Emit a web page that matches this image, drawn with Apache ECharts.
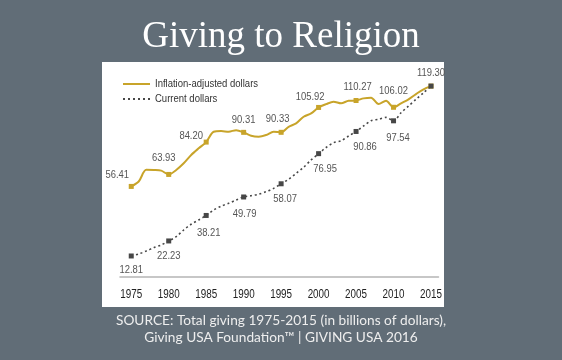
<!DOCTYPE html>
<html>
<head>
<meta charset="utf-8">
<script src="https://cdn.jsdelivr.net/npm/echarts@6.0.0/dist/echarts.min.js"></script>
<style>
html,body{margin:0;padding:0;background:#616d77;}
#chart{width:562px;height:360px;}
</style>
</head>
<body>
<div id="chart"></div>
<script>
// ---- data ----
const years = [1975,1976,1977,1978,1979,1980,1981,1982,1983,1984,
               1985,1986,1987,1988,1989,1990,1991,1992,1993,1994,
               1995,1996,1997,1998,1999,2000,2001,2002,2003,2004,
               2005,2006,2007,2008,2009,2010,2011,2012,2013,2014,2015];
const inflationAdjusted = [56.41,59.5,66.8,66.7,66.3,63.93,66.7,70.9,76.1,80.3,
                           84.20,90.7,91.1,90.7,91.7,90.31,88.2,87.6,88.6,90.7,
                           90.33,93.8,95.9,100.1,102.2,105.92,108.0,109.5,108.5,110.1,
                           110.27,111.6,112.0,108.0,110.1,106.02,108.5,111.0,114.3,117.3,119.30];
const currentDollars = [12.81,14.1,15.9,18.0,19.7,22.23,24.9,29.1,32.7,35.4,
                        38.21,41.6,44.1,45.8,47.9,49.79,50.6,51.5,53.1,55.2,
                        58.07,60.9,64.6,68.4,73.0,76.95,80.8,83.8,85.0,88.0,
                        90.86,94.3,97.6,98.5,99.7,97.54,102.6,106.8,111.0,115.1,119.30];
const tickYears = [1975,1980,1985,1990,1995,2000,2005,2010,2015];
const seriesNames = ['Inflation-adjusted dollars','Current dollars'];
const titleText = 'Giving to Religion';
const sourceLines = ['SOURCE: Total giving 1975-2015 (in billions of dollars),',
                     'Giving USA Foundation\u2122 | GIVING USA 2016'];

// ---- label placement (offsets from the marker) ----
const inflLabelOffset = {1975:[-14,-12],1980:[-5,-17],1985:[-15,-6],1990:[0,-13],1995:[-3.5,-13],
                         2000:[-8.5,-11],2005:[1.5,-14],2010:[0,-16],2015:[0,-13]};
const curLabelOffset = {1975:[0,14],1980:[0,15],1985:[2.5,17],1990:[1,17],1995:[4,15.5],
                        2000:[6.5,15],2005:[9,15],2010:[4.5,17]};

// Narrow rendering for chart texts (emulates a condensed sans face)
(function () {
  const proto = CanvasRenderingContext2D.prototype;
  const origFill = proto.fillText;
  proto.fillText = function (t, x, y, mw) {
    if (String(this.font).indexOf('Liberation Sans') >= 0) {
      this.save();
      this.translate(x, y);
      this.scale(0.82, 1);
      origFill.call(this, t, 0, 0);
      this.restore();
    } else if (mw !== undefined) {
      origFill.call(this, t, x, y, mw);
    } else {
      origFill.call(this, t, x, y);
    }
  };
})();

const GOLD = '#c8a42a';
const DARK = '#474747';
const labelFont = '"Liberation Sans",Arial,sans-serif';

function build(values, offsets) {
  return years.map((y, i) => {
    const item = {value: [y, values[i]]};
    if (offsets[y]) {
      item.label = {show: true, position: 'inside', offset: offsets[y],
        formatter: values[i].toFixed(2), color: '#555', fontSize: 11.5,
        fontFamily: labelFont, align: 'center', verticalAlign: 'middle'};
    }
    return item;
  });
}

const chart = echarts.init(document.getElementById('chart'), null, {renderer: 'canvas'});
chart.setOption({
  backgroundColor: '#616d77',
  animation: false,
  graphic: [
    {type: 'rect', z: -10, shape: {x: 102, y: 62, width: 342, height: 245}, style: {fill: '#ffffff'}},
    {type: 'text', left: 'center', top: 19, style: {text: titleText, fill: '#ffffff',
      font: '37px "Liberation Serif","Times New Roman",serif'}},
    {type: 'text', x: 281, y: 321, style: {text: sourceLines[0], fill: '#eeeeee', align: 'center', verticalAlign: 'middle',
      font: '13.7px Lato,"Open Sans",sans-serif'}},
    {type: 'text', x: 281, y: 338, style: {text: sourceLines[1], fill: '#eeeeee', align: 'center', verticalAlign: 'middle',
      font: '13.7px Lato,"Open Sans",sans-serif'}}
  ],
  legend: {
    orient: 'vertical', left: 118, top: 71.5, itemWidth: 27, itemHeight: 2, itemGap: 0,
    textStyle: {color: '#333', fontSize: 11.6, lineHeight: 15, fontFamily: labelFont},
    data: [
      {name: seriesNames[0], icon: 'path://M0,0L27,0L27,2L0,2Z'},
      {name: seriesNames[1], icon: 'path://M0,0L2,0L2,2L0,2Z M5,0L7,0L7,2L5,2Z M10,0L12,0L12,2L10,2Z M15,0L17,0L17,2L15,2Z M20,0L22,0L22,2L20,2Z M25,0L27,0L27,2L25,2Z'}
    ]
  },
  grid: {left: 120, right: 123.5, top: 77, bottom: 77.2},
  xAxis: {
    type: 'value', min: 1973.5, max: 2016, interval: 0.5,
    splitLine: {show: false}, axisTick: {show: false},
    axisLine: {show: true, lineStyle: {color: '#b5b5b5', width: 1.5}},
    axisLabel: {color: '#222', fontSize: 12, fontFamily: labelFont, margin: 6, showMinLabel: true, showMaxLabel: true,
      formatter: v => tickYears.indexOf(v) >= 0 ? String(v) : ''}
  },
  yAxis: {type: 'value', min: -4, max: 125, show: false, splitLine: {show: false}},
  series: [
    {
      name: seriesNames[0], type: 'line', smooth: 0.3, color: GOLD,
      data: build(inflationAdjusted, inflLabelOffset),
      lineStyle: {color: GOLD, width: 2},
      symbol: 'rect', symbolSize: (v) => tickYears.indexOf(v[0]) >= 0 ? 5 : 0,
      itemStyle: {color: GOLD}
    },
    {
      name: seriesNames[1], type: 'line', smooth: 0.3, color: DARK,
      data: build(currentDollars, curLabelOffset),
      lineStyle: {color: DARK, width: 1.6, type: [2, 2.8]},
      symbol: 'rect', symbolSize: (v) => tickYears.indexOf(v[0]) >= 0 ? 5 : 0,
      itemStyle: {color: DARK}
    }
  ]
});
</script>
</body>
</html>
